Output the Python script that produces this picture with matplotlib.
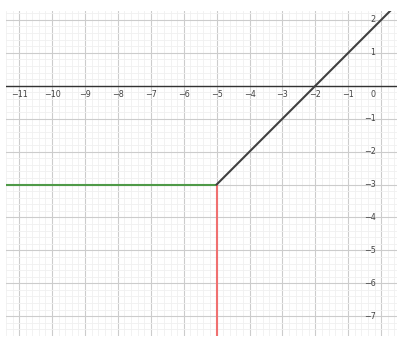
import matplotlib
matplotlib.use("Agg")
import matplotlib.pyplot as plt
import numpy as np

# Data
ray_x = [-5, 1]
ray_y = [-3, 3]
horiz_x = [-12, -5]
horiz_y = [-3, -3]
vert_x = [-5, -5]
vert_y = [-3, -8]
x_tick_values = [-11, -10, -9, -8, -7, -6, -5, -4, -3, -2, -1]
y_tick_values = [2, 1, -1, -2, -3, -4, -5, -6, -7]

xmin, xmax = -11.33, 0.48
ymin, ymax = -7.58, 2.27

fig = plt.figure(figsize=(3.97, 3.38), dpi=100)
ax = fig.add_axes([6/397, 2/338, 391/397, 325/338])
ax.set_xlim(xmin, xmax)
ax.set_ylim(ymin, ymax)

ax.set_xticks(np.arange(-11, 1, 1))
ax.set_yticks(np.arange(-7, 3, 1))
ax.set_xticks(np.arange(-11.4, 0.6, 0.2), minor=True)
ax.set_yticks(np.arange(-7.6, 2.4, 0.2), minor=True)
ax.grid(which='major', color='#cccccc', linewidth=0.8)
ax.grid(which='minor', color='#f0f0f0', linewidth=0.6)
ax.set_axisbelow(True)
ax.tick_params(which='both', length=0, labelbottom=False, labelleft=False)
for s in ax.spines.values():
    s.set_visible(False)

ax.axhline(0, color='#333333', linewidth=1.0, zorder=2)

for v in x_tick_values:
    ax.text(v, -0.12, "\u2212" + str(abs(v)), ha='center', va='top',
            fontsize=5.8, color='#444444')
ax.text(-0.17, -0.12, "0", ha='right', va='top', fontsize=5.8, color='#444444')
for v in y_tick_values:
    lab = str(v) if v > 0 else "\u2212" + str(abs(v))
    ax.text(-0.17, v, lab, ha='right', va='center', fontsize=5.8, color='#444444')

ax.plot(horiz_x, horiz_y, color='#4f9a48', linewidth=1.5, zorder=3)
ax.plot(vert_x, vert_y, color='#f07070', linewidth=1.5, zorder=3)
ax.plot(ray_x, ray_y, color='#404040', linewidth=1.5, zorder=4)

fig.savefig("out.png", dpi=100)
